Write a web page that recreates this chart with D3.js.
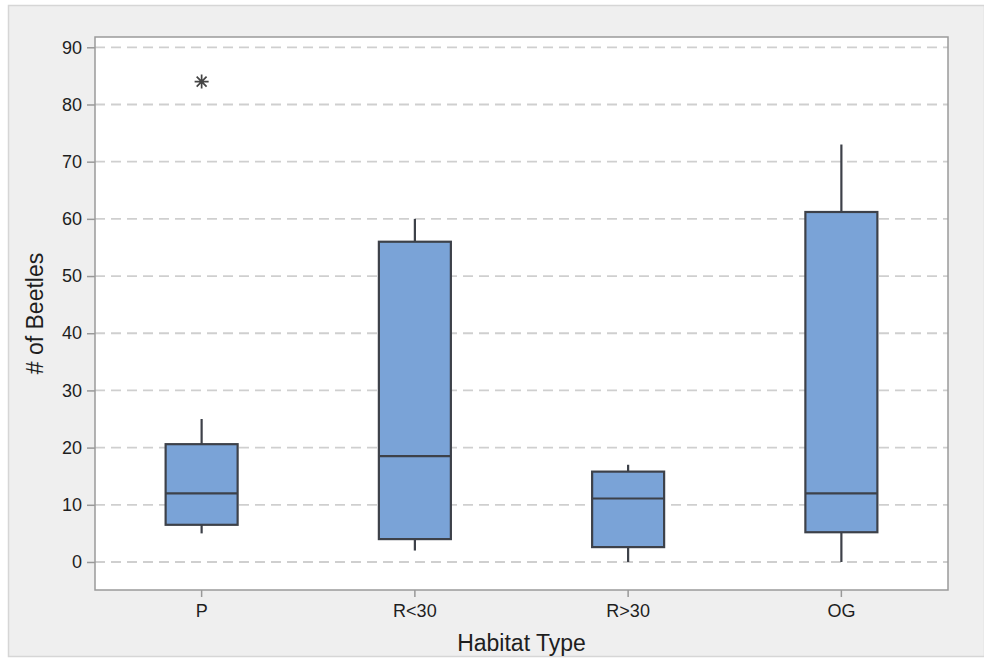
<!DOCTYPE html>
<html>
<head>
<meta charset="utf-8">
<script src="https://cdn.jsdelivr.net/npm/d3@7"></script>
<style>
  body { margin: 0; background: #ffffff; }
  svg text { font-family: "Liberation Sans", Arial, sans-serif; fill: #1e1e1e; }
</style>
</head>
<body>
<svg width="984" height="659"></svg>
<script>
var categories = ["P", "R<30", "R>30", "OG"];
var whiskerLow  = [5, 2, 0, 0];
var q1          = [6.5, 4, 2.6, 5.2];
var median      = [12, 18.5, 11.1, 12];
var q3          = [20.6, 56, 15.8, 61.2];
var whiskerHigh = [25, 60, 17, 73];
var outliers    = [{cat: "P", value: 84}];
var yTicks = [0, 10, 20, 30, 40, 50, 60, 70, 80, 90];

var width = 984, height = 659;
var margin = {left: 95, right: 36, top: 37, bottom: 69};
var plotW = width - margin.left - margin.right,
    plotH = height - margin.top - margin.bottom;

var svg = d3.select("svg");

// outer grey panel
svg.append("rect")
    .attr("x", 8.5).attr("y", 5.5)
    .attr("width", width - 8).attr("height", height - 8)
    .attr("fill", "#efefef")
    .attr("stroke", "#d6d6d6")
    .attr("stroke-width", 1.5);

var x = d3.scaleBand().domain(categories).range([0, plotW]).padding(0);
var y = d3.scaleLinear().domain([-4.9, 91.8]).range([plotH, 0]);

var g = svg.append("g").attr("transform", "translate(" + margin.left + "," + margin.top + ")");

g.append("rect")
    .attr("width", plotW).attr("height", plotH)
    .attr("fill", "#ffffff");

// dashed grid
g.append("g").selectAll("line")
    .data(yTicks)
    .enter().append("line")
    .attr("x1", 0).attr("x2", plotW)
    .attr("y1", function(d) { return y(d); })
    .attr("y2", function(d) { return y(d); })
    .attr("stroke", "#cfcfcf")
    .attr("stroke-width", 1.8)
    .attr("stroke-dasharray", "10,6");

// y axis
var yAxis = g.append("g")
    .call(d3.axisLeft(y).tickValues(yTicks).tickSize(8).tickPadding(5));
yAxis.select(".domain").remove();
yAxis.selectAll(".tick line").attr("stroke", "#999").attr("stroke-width", 1.5);
yAxis.selectAll(".tick text").attr("font-size", 18).attr("fill", "#1e1e1e");

// x axis
var xAxis = g.append("g")
    .attr("transform", "translate(0," + plotH + ")")
    .call(d3.axisBottom(x).tickSize(7).tickPadding(7));
xAxis.select(".domain").remove();
xAxis.selectAll(".tick line").attr("stroke", "#999").attr("stroke-width", 1.5);
xAxis.selectAll(".tick text").attr("font-size", 18).attr("fill", "#1e1e1e");

// plot frame
g.append("rect")
    .attr("width", plotW).attr("height", plotH)
    .attr("fill", "none")
    .attr("stroke", "#9a9a9a")
    .attr("stroke-width", 1.5);

var boxW = 72;
var boxes = g.append("g").selectAll("g")
    .data(categories)
    .enter().append("g")
    .attr("transform", function(d) { return "translate(" + (x(d) + x.bandwidth() / 2) + ",0)"; });

boxes.append("line")
    .attr("x1", 0).attr("x2", 0)
    .attr("y1", function(d, i) { return y(whiskerHigh[i]); })
    .attr("y2", function(d, i) { return y(q3[i]); })
    .attr("stroke", "#3d4149").attr("stroke-width", 2.2);

boxes.append("line")
    .attr("x1", 0).attr("x2", 0)
    .attr("y1", function(d, i) { return y(q1[i]); })
    .attr("y2", function(d, i) { return y(whiskerLow[i]); })
    .attr("stroke", "#3d4149").attr("stroke-width", 2.2);

boxes.append("rect")
    .attr("x", -boxW / 2)
    .attr("width", boxW)
    .attr("y", function(d, i) { return y(q3[i]); })
    .attr("height", function(d, i) { return y(q1[i]) - y(q3[i]); })
    .attr("fill", "#7aa3d7")
    .attr("stroke", "#3d4149")
    .attr("stroke-width", 2.2);

boxes.append("line")
    .attr("x1", -boxW / 2).attr("x2", boxW / 2)
    .attr("y1", function(d, i) { return y(median[i]); })
    .attr("y2", function(d, i) { return y(median[i]); })
    .attr("stroke", "#3d4149").attr("stroke-width", 2.2);

// outlier asterisks (4 strokes, 8 arms)
function asterisk(r) {
    var p = d3.path();
    for (var k = 0; k < 4; k++) {
        var a = k * Math.PI / 4;
        p.moveTo(-r * Math.cos(a), -r * Math.sin(a));
        p.lineTo(r * Math.cos(a), r * Math.sin(a));
    }
    return p.toString();
}
g.append("g").selectAll("path")
    .data(outliers)
    .enter().append("path")
    .attr("transform", function(d) { return "translate(" + (x(d.cat) + x.bandwidth() / 2) + "," + y(d.value) + ")"; })
    .attr("d", asterisk(7))
    .attr("stroke", "#444")
    .attr("stroke-width", 1.7)
    .attr("fill", "none");

// axis titles
svg.append("text")
    .attr("x", margin.left + plotW / 2)
    .attr("y", 651)
    .attr("text-anchor", "middle")
    .attr("font-size", 23)
    .text("Habitat Type");

svg.append("text")
    .attr("transform", "translate(43," + (margin.top + plotH / 2) + ") rotate(-90)")
    .attr("text-anchor", "middle")
    .attr("font-size", 23)
    .text("# of Beetles");
</script>
</body>
</html>
